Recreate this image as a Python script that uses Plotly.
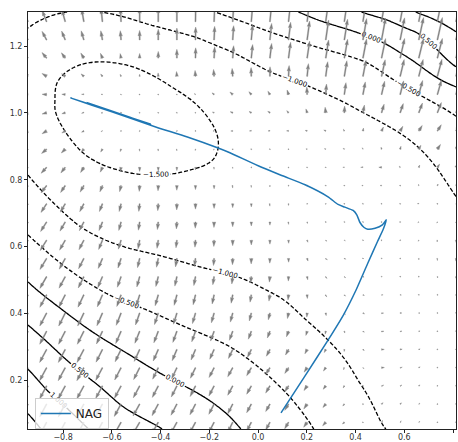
import numpy as np
import plotly.graph_objects as go

# ---------------- axis extents ----------------
X_MIN, X_MAX = -0.944, 0.812
Y_MIN, Y_MAX = 0.054, 1.302

x_ticks = [-0.8, -0.6, -0.4, -0.2, 0.0, 0.2, 0.4, 0.6, 0.8]
y_ticks = [0.2, 0.4, 0.6, 0.8, 1.0, 1.2]

# ---------------- contour readings: (x, y) points on each labelled level ----------------
lvl_m15_x = [-0.833, -0.825, -0.73, -0.636, -0.513, -0.349, -0.21, -0.164, -0.185, -0.28, -0.43, -0.574, -0.718, -0.79, -0.833]
lvl_m15_y = [1.04, 1.09, 1.144, 1.153, 1.138, 1.075, 0.99, 0.92, 0.86, 0.829, 0.814, 0.829, 0.88, 0.943, 1.009]

lvl_m10_x = [-0.944, -0.81, -0.73, -0.574, -0.414, -0.238, -0.082, 0.033, 0.094, 0.19, 0.287, 0.41, 0.52,
             -0.944, -0.907, -0.8,
             -0.63, -0.45, -0.25, -0.10, 0.05, 0.172, 0.30, 0.41, 0.574, 0.656, 0.738, 0.812]
lvl_m10_y = [0.814, 0.71, 0.66, 0.605, 0.575, 0.539, 0.509, 0.47, 0.446, 0.385, 0.32, 0.2, 0.057,
             1.254, 1.272, 1.30,
             1.30, 1.265, 1.225, 1.18, 1.123, 1.09, 1.05, 1.009, 0.943, 0.898, 0.83, 0.75]

lvl_m05_x = [-0.168, 0.02, 0.172, 0.30, 0.447, 0.685, 0.812,
             -0.944, -0.81, -0.648, -0.566, -0.49, -0.3, -0.115, 0.13, 0.226]
lvl_m05_y = [1.30, 1.25, 1.213, 1.185, 1.15, 1.045, 0.99,
             0.635, 0.55, 0.47, 0.44, 0.42, 0.36, 0.30, 0.15, 0.057]

lvl_0_x = [-0.944, -0.907, -0.784, -0.525, -0.349, -0.115, -0.074,
           0.172, 0.246, 0.377, 0.583, 0.812]
lvl_0_y = [0.494, 0.47, 0.40, 0.275, 0.20, 0.09, 0.057,
           1.30, 1.278, 1.248, 1.18, 1.078]

lvl_05_x = [-0.944, -0.8, -0.648, -0.553, -0.4, 0.431, 0.529, 0.652, 0.812]
lvl_05_y = [0.365, 0.27, 0.18, 0.12, 0.057, 1.30, 1.278, 1.24, 1.138]

lvl_10_x = [-0.944, -0.866, -0.70, 0.652, 0.812]
lvl_10_y = [0.233, 0.17, 0.057, 1.30, 1.243]

lvl_15_x = [-0.944, -0.894]
lvl_15_y = [0.10, 0.057]

# estimated interior values (minimum, valley floor, flat lower-right area)
inner_x = [-0.5, -0.68, -0.33, 0.0, 0.2, 0.4, 0.6, 0.8, 0.6, 0.8, 0.6, 0.8, 0.7]
inner_y = [0.98, 1.03, 0.94, 0.85, 0.78, 0.72, 0.68, 0.66, 0.2, 0.2, 0.45, 0.45, 0.06]
inner_z = [-1.66, -1.62, -1.60, -1.38, -1.28, -1.18, -1.12, -1.08, -1.06, -1.04, -1.09, -1.06, -1.04]

# ---------------- arrow field readings (screen px: dx right, dy up) on a coarse grid ----------------
arrow_ctrl_x = [-0.9, -0.7, -0.5, -0.3, -0.1, 0.1, 0.3, 0.5, 0.7, 0.8]
arrow_ctrl_y = [0.08, 0.25, 0.42, 0.58, 0.72, 0.84, 0.95, 1.05, 1.15, 1.27]
arrow_dx = [
    [-7, -7, -7, -6, -5, -4, -3, 1, 1, 0],
    [-7, -7, -6, -5, -5, -4, -2, 3, 1, 0],
    [-7, -6, -4, -3, -2, -1, 1, 2, 1, 0],
    [-7, -5, -2, -1, 0, 0, 2, 0, 0, 0],
    [-6, -4, -1, 0, 0, 0, 0, 0, -2, 1],
    [-6, -3, 0, 0, 0, 0, -1, -3, 2, 3],
    [-5, -2, 0, 0, -2, -2, -2, 2, 4, 4],
    [-5, -2, 0, -1, -3, -2, 1, 3, 4, 4],
    [-5, -3, 0, 0, 1, 2, 3, 4, 5, 5],
    [-5, -2, 0, 0, 1, 2, 3, 4, 5, 5],
]
arrow_dy = [
    [-13, -13, -12, -11, -10, -7, -3, 2, 1, 0],
    [-13, -13, -12, -11, -9, -6, -3, 0, 1, 0],
    [-13, -13, -12, -11, -9, -6, -2, 0, 0, 0],
    [-11, -10, -9, -8, -6, -4, -1, 0, -2, -3],
    [-9, -8, -8, -6, -4, -2, 0, 0, 0, -1],
    [-6, -5, -4, -3, -1, 0, 0, 0, 3, 4],
    [-3, -1, 0, 0, 0, 0, 1, 4, 6, 7],
    [0, 0, 0, 0, 2, 3, 11, 13, 14, 14],
    [5, 4, 3, 9, 12, 15, 18, 19, 19, 19],
    [11, 13, 14, 15, 16, 19, 22, 24, 25, 25],
]

# ---------------- NAG trajectory ----------------
nag_x = [0.094, 0.19, 0.287, 0.35, 0.402, 0.45, 0.49, 0.515, 0.526, 0.51, 0.48, 0.45, 0.435, 0.418,
         0.405, 0.39, 0.356, 0.328, 0.287, 0.193, 0.1, 0.012, -0.123, -0.164, -0.29, -0.42, -0.6,
         -0.77, -0.44, -0.70, -0.52, -0.64, -0.56]
nag_y = [0.102, 0.21, 0.32, 0.395, 0.47, 0.55, 0.615, 0.655, 0.68, 0.665, 0.655, 0.652, 0.657, 0.672,
         0.695, 0.708, 0.718, 0.726, 0.749, 0.785, 0.812, 0.838, 0.883, 0.895, 0.928, 0.958, 1.003,
         1.045, 0.966, 1.030, 0.986, 1.014, 0.995]

# ---------------- surface through the read contour points ----------------
px_all = np.array(lvl_m15_x + lvl_m10_x + lvl_m05_x + lvl_0_x + lvl_05_x + lvl_10_x + lvl_15_x + inner_x)
py_all = np.array(lvl_m15_y + lvl_m10_y + lvl_m05_y + lvl_0_y + lvl_05_y + lvl_10_y + lvl_15_y + inner_y)
pz_all = np.array([-1.5] * len(lvl_m15_x) + [-1.0] * len(lvl_m10_x) + [-0.5] * len(lvl_m05_x)
                  + [0.0] * len(lvl_0_x) + [0.5] * len(lvl_05_x) + [1.0] * len(lvl_10_x)
                  + [1.5] * len(lvl_15_x) + inner_z)

YS = 1.37  # pixel aspect (y px/unit over x px/unit)


def _u(d):
    return d ** 2 * np.log(np.maximum(d, 1e-12))


def tps_fit(xs, ys, zs, lam=2e-4):
    n = len(xs)
    d = np.hypot(xs[:, None] - xs[None, :], YS * (ys[:, None] - ys[None, :]))
    K = _u(d)
    P = np.column_stack([np.ones(n), xs, ys])
    A = np.zeros((n + 3, n + 3))
    A[:n, :n] = K + lam * np.eye(n)
    A[:n, n:] = P
    A[n:, :n] = P.T
    b = np.concatenate([zs, np.zeros(3)])
    sol = np.linalg.solve(A, b)
    return sol[:n], sol[n:]


W, A3 = tps_fit(px_all, py_all, pz_all)


def surf(X, Y):
    X = np.asarray(X, float)
    Y = np.asarray(Y, float)
    d = np.hypot(X[..., None] - px_all, YS * (Y[..., None] - py_all))
    return A3[0] + A3[1] * X + A3[2] * Y + _u(d) @ W


xg = np.linspace(X_MIN, X_MAX, 160)
yg = np.linspace(Y_MIN, Y_MAX, 160)
XG, YG = np.meshgrid(xg, yg)
ZG = surf(XG, YG)

# ---------------- quiver (matplotlib-like filled arrows) ----------------
PX_X = 428 / (X_MAX - X_MIN)
PX_Y = 417 / (Y_MAX - Y_MIN)
xq = np.linspace(X_MIN, X_MAX, 24)
yq = np.linspace(1.273, 1.273 - 22 * 0.0545, 23)

adx = np.array(arrow_dx, float)
ady = np.array(arrow_dy, float)


def field(x, y):
    rx = np.array([np.interp(x, arrow_ctrl_x, r) for r in adx])
    ry = np.array([np.interp(x, arrow_ctrl_x, r) for r in ady])
    return np.interp(y, arrow_ctrl_y, rx), np.interp(y, arrow_ctrl_y, ry)


wid = 1.1
hw, hl, hal, minsh_n, minlen = 3.0, 5.0, 4.5, 1.0, 1.0
ii = [0, 1, 2, 3, 2, 1, 0, 0]
ax_list, ay_list = [], []
for y0 in yq:
    for x0 in xq:
        u, v = field(x0, y0)
        L = np.hypot(u, v) / wid  # in shaft-width units
        minsh = minsh_n * hl
        if L < minlen:
            th = np.arange(0, 8) * np.pi / 3
            X = np.cos(th) * minlen * 0.5
            Y = np.sin(th) * minlen * 0.5
        elif L < minsh:
            x0a = np.array([0, minsh - hal, minsh - hl, minsh])
            y0a = 0.5 * np.array([1, 1, hw, 0])
            X = x0a[ii] * (L / minsh)
            Y = y0a[ii].copy()
            Y[3:-1] *= -1
            Y = Y * (L / minsh)
        else:
            xa = np.array([0, -hal, -hl, 0]) + np.array([0, 1, 1, 1]) * L
            ya = 0.5 * np.array([1, 1, hw, 0])
            X = xa[ii]
            Y = ya[ii].copy()
            Y[3:-1] *= -1
        ang = np.arctan2(v, u)
        Xp = (X * np.cos(ang) - Y * np.sin(ang)) * wid
        Yp = (X * np.sin(ang) + Y * np.cos(ang)) * wid
        ax_list += list(x0 + Xp / PX_X) + [None]
        ay_list += list(y0 + Yp / PX_Y) + [None]

fig = go.Figure()
fig.add_trace(go.Scatter(x=ax_list, y=ay_list, mode="lines", fill="toself",
                         fillcolor="rgb(128,128,128)", line=dict(width=0.4, color="rgb(128,128,128)"),
                         hoverinfo="skip", showlegend=False))

black = [[0, "black"], [1, "black"]]
fig.add_trace(go.Contour(x=xg, y=yg, z=ZG, colorscale=black, showscale=False,
                         contours=dict(coloring="lines", start=-1.5, end=-0.5, size=0.5,
                                       showlabels=True, labelformat=".3f",
                                       labelfont=dict(size=7, color="black", family="DejaVu Sans")),
                         line=dict(width=1.3, dash="4px,2px"), hoverinfo="skip", showlegend=False))
fig.add_trace(go.Contour(x=xg, y=yg, z=ZG, colorscale=black, showscale=False,
                         contours=dict(coloring="lines", start=0.0, end=1.5, size=0.5,
                                       showlabels=True, labelformat=".3f",
                                       labelfont=dict(size=7, color="black", family="DejaVu Sans")),
                         line=dict(width=1.3), hoverinfo="skip", showlegend=False))

fig.add_trace(go.Scatter(x=nag_x, y=nag_y, mode="lines", name="NAG",
                         line=dict(color="#1f77b4", width=1.5, shape="spline", smoothing=0.6)))

axis_common = dict(showgrid=False, zeroline=False, showline=True, linecolor="#222", linewidth=1,
                   mirror=True, ticks="outside", ticklen=3, tickcolor="#222",
                   tickfont=dict(size=8, color="#333", family="DejaVu Sans"))
fig.update_xaxes(range=[X_MIN, X_MAX], tickvals=x_ticks, tickformat=".1f",
                 ticklabelstandoff=-3, **axis_common)
fig.update_yaxes(range=[Y_MIN, Y_MAX], tickvals=y_ticks, tickformat=".1f", **axis_common)

fig.update_layout(width=458, height=442,
                  margin=dict(l=28, r=2, t=12, b=13, autoexpand=False),
                  plot_bgcolor="white", paper_bgcolor="white",
                  font=dict(family="DejaVu Sans"),
                  legend=dict(x=0.016, y=0.0, xanchor="left", yanchor="bottom",
                              bgcolor="rgba(255,255,255,0.8)", bordercolor="#cccccc", borderwidth=1,
                              font=dict(size=12, color="#222")))

fig.write_html("out.html", config={"displayModeBar": False},
               post_script="document.body.style.margin='0';document.body.style.padding='0';")
